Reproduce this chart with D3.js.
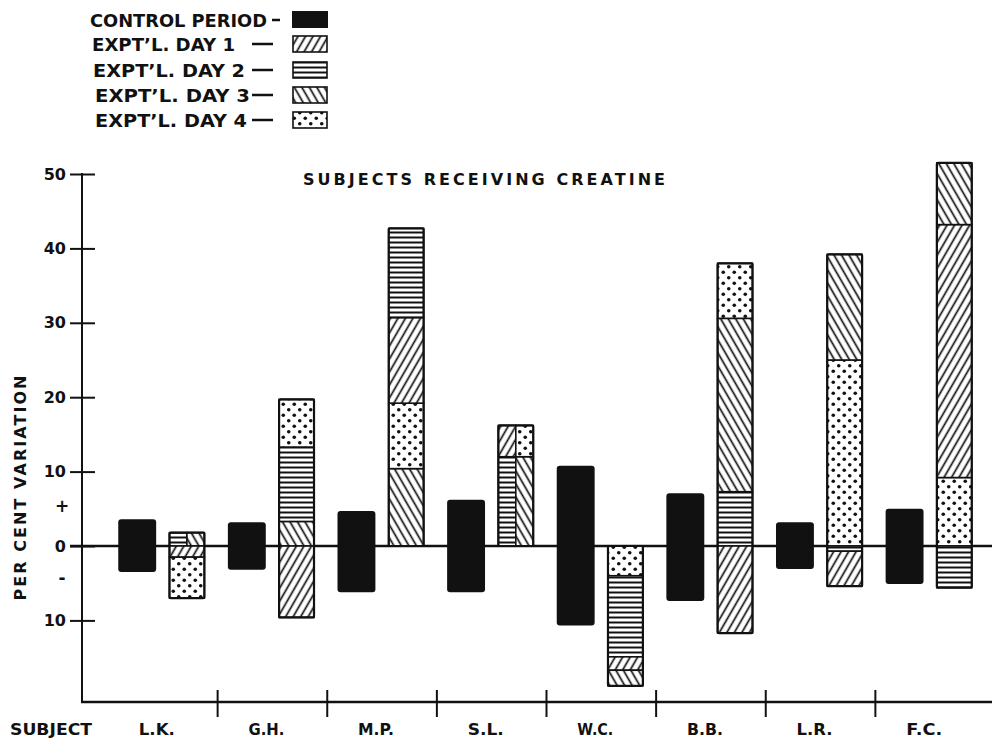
<!DOCTYPE html>
<html><head><meta charset="utf-8">
<script src="https://cdn.jsdelivr.net/npm/d3@7"></script>
<style>
body{margin:0;background:#fff}
text{font-family:"DejaVu Sans",sans-serif;font-weight:bold;fill:#111}
</style>
</head><body>
<svg id="c" width="992" height="739"></svg>
<script>
// ---------- data ----------
const subjects = ["L.K.","G.H.","M.P.","S.L.","W.C.","B.B.","L.R.","F.C."];
const controlUpper = [3.6, 3.2, 4.7, 6.2, 10.8, 7.1, 3.2, 5.0];
const controlLower = [-3.5, -3.2, -6.2, -6.2, -10.7, -7.4, -3.1, -5.1];
// each experimental segment: [day, from, to, column]  (column: full | left | right)
const exptLK = [["day2",0,1.8,"left"],["day3",0,1.8,"right"],["day1",0,-1.5,"full"],["day4",-1.5,-7.0,"full"]];
const exptGH = [["day3",0,3.3,"full"],["day2",3.3,13.3,"full"],["day4",13.3,19.7,"full"],["day1",0,-9.6,"full"]];
const exptMP = [["day3",0,10.4,"full"],["day4",10.4,19.2,"full"],["day1",19.2,30.7,"full"],["day2",30.7,42.7,"full"]];
const exptSL = [["day2",0,12.0,"left"],["day1",12.0,16.2,"left"],["day3",0,12.0,"right"],["day4",12.0,16.2,"right"]];
const exptWC = [["day4",0,-4.0,"full"],["day2",-4.0,-14.9,"full"],["day1",-14.9,-16.7,"full"],["day3",-16.7,-18.8,"full"]];
const exptBB = [["day2",0,7.3,"full"],["day3",7.3,30.6,"full"],["day4",30.6,38.0,"full"],["day1",0,-11.7,"full"]];
const exptLR = [["day4",0,25.0,"full"],["day3",25.0,39.2,"full"],["day2",0,-0.7,"full"],["day1",-0.7,-5.4,"full"]];
const exptFC = [["day4",0,9.2,"full"],["day1",9.2,43.2,"full"],["day3",43.2,51.5,"full"],["day2",0,-5.6,"full"]];
const exptSegments = [exptLK, exptGH, exptMP, exptSL, exptWC, exptBB, exptLR, exptFC];
const yTickValues = [50, 40, 30, 20, 10, 0, -10];
const signMarks = [["+", 5.2], ["-", -4.5]];
const legendKeys = ["control","day1","day2","day3","day4"];
const legendLabels = ["CONTROL PERIOD","EXPT\u2019L. DAY 1","EXPT\u2019L. DAY 2","EXPT\u2019L. DAY 3","EXPT\u2019L. DAY 4"];
const titleText = "SUBJECTS RECEIVING CREATINE";
const yAxisTitle = "PER CENT VARIATION";
const xAxisTitle = "SUBJECT";

// ---------- drawing ----------
const svg = d3.select("#c");
const ink = "#111";
const defs = svg.append("defs");
function hatch(id, angle, spacing, sw){
  const p = defs.append("pattern").attr("id",id).attr("patternUnits","userSpaceOnUse")
    .attr("width",spacing).attr("height",spacing).attr("patternTransform",`rotate(${angle})`);
  p.append("rect").attr("width",spacing).attr("height",spacing).attr("fill","#fff");
  p.append("line").attr("x1",spacing/2).attr("x2",spacing/2).attr("y1",0).attr("y2",spacing)
    .attr("stroke",ink).attr("stroke-width",sw);
}
hatch("day1", 30, 6.5, 1.7);
hatch("day3", -30, 6.5, 1.7);
{
  const p = defs.append("pattern").attr("id","day2").attr("patternUnits","userSpaceOnUse").attr("width",8).attr("height",5);
  p.append("rect").attr("width",8).attr("height",5).attr("fill","#fff");
  p.append("line").attr("x1",0).attr("x2",8).attr("y1",2.5).attr("y2",2.5).attr("stroke",ink).attr("stroke-width",2);
  const q = defs.append("pattern").attr("id","day4").attr("patternUnits","userSpaceOnUse").attr("width",11).attr("height",11);
  q.append("rect").attr("width",11).attr("height",11).attr("fill","#fff");
  q.append("circle").attr("cx",2.75).attr("cy",2.75).attr("r",1.8).attr("fill",ink);
  q.append("circle").attr("cx",8.25).attr("cy",8.25).attr("r",1.8).attr("fill",ink);
}
const fillFor = k => k === "control" ? ink : `url(#${k})`;

const y = d3.scaleLinear().domain([-10, 50]).range([620.4, 174]);
const x = d3.scaleBand().domain(subjects).range([108, 985]).padding(0);
const inner = d3.scaleBand().domain(["control","expt"]).range([0, x.bandwidth()]).paddingInner(0.26).paddingOuter(0.2);
const axisX = 82, baseY = 702;

// title
svg.append("text").attr("x",303).attr("y",185).attr("font-size",16).attr("textLength",362)
  .attr("lengthAdjust","spacing").text(titleText);

// legend
legendKeys.forEach((k,i)=>{
  const cy = [20, 44, 70, 95, 120][i];
  const widths = [177, 143, 152, 155, 152];
  const x0 = [90, 92, 93, 95, 95][i];
  svg.append("text").attr("x",x0).attr("y",cy+6.5).attr("font-size",17)
    .attr("textLength",widths[i]).attr("lengthAdjust","spacingAndGlyphs").text(legendLabels[i]);
  if(i===0){
    svg.append("line").attr("x1",272).attr("x2",280).attr("y1",cy).attr("y2",cy).attr("stroke",ink).attr("stroke-width",2.5);
    svg.append("rect").attr("x",292).attr("y",11).attr("width",36).attr("height",17).attr("fill",ink);
  } else {
    svg.append("line").attr("x1",252).attr("x2",273).attr("y1",cy).attr("y2",cy).attr("stroke",ink).attr("stroke-width",2.5);
    svg.append("rect").attr("x",293).attr("y",cy-8).attr("width",34).attr("height",16)
      .attr("fill",fillFor(k)).attr("stroke",ink).attr("stroke-width",1.6);
  }
});

// y axis
const yAxis = d3.axisLeft(y).tickValues(yTickValues).tickFormat(d=>String(Math.abs(d))).tickSize(12).tickPadding(4);
const gy = svg.append("g").attr("transform",`translate(${axisX},0)`).call(yAxis);
gy.select(".domain").remove();
gy.selectAll(".tick line").attr("x1",13).attr("stroke",ink).attr("stroke-width",2);
gy.selectAll(".tick text").attr("font-size",16).attr("font-family","DejaVu Sans").attr("font-weight","bold").attr("fill",ink);
svg.append("line").attr("x1",axisX).attr("x2",axisX).attr("y1",y(50)-1).attr("y2",baseY)
  .attr("stroke",ink).attr("stroke-width",2);
signMarks.forEach(([s,v])=>{
  svg.append("text").attr("x",62).attr("y",y(v)+5).attr("text-anchor","middle").attr("font-size",17).text(s);
});
svg.append("text").attr("transform",`translate(26,488) rotate(-90)`).attr("text-anchor","middle")
  .attr("font-size",16).attr("textLength",225).attr("lengthAdjust","spacing").text(yAxisTitle);

// bottom axis
svg.append("line").attr("x1",axisX-1).attr("x2",992).attr("y1",baseY).attr("y2",baseY).attr("stroke",ink).attr("stroke-width",2.5);
subjects.slice(1).forEach(s=>{
  svg.append("line").attr("x1",x(s)).attr("x2",x(s)).attr("y1",baseY-12).attr("y2",baseY+15).attr("stroke",ink).attr("stroke-width",2);
});
svg.append("text").attr("x",10).attr("y",735).attr("font-size",16).attr("textLength",82).attr("lengthAdjust","spacingAndGlyphs").text(xAxisTitle);
subjects.forEach(s=>{
  svg.append("text").attr("x",x(s)+x.bandwidth()/2-6).attr("y",735).attr("text-anchor","middle")
    .attr("font-size",16).attr("textLength",36).attr("lengthAdjust","spacingAndGlyphs").text(s);
});

// zero line
svg.append("line").attr("x1",70).attr("x2",992).attr("y1",y(0)).attr("y2",y(0)).attr("stroke",ink).attr("stroke-width",2.5);

// control bars
subjects.forEach((s,i)=>{
  svg.append("rect").attr("x",x(s)+inner("control")).attr("width",inner.bandwidth())
    .attr("y",y(controlUpper[i])).attr("height",y(controlLower[i])-y(controlUpper[i]))
    .attr("rx",3).attr("fill",ink);
});

// experimental bars
subjects.forEach((s,i)=>{
  const x0 = x(s)+inner("expt"), w = inner.bandwidth()-3;
  exptSegments[i].forEach(([day,a,b,col])=>{
    const xs = col==="right" ? x0+w/2 : x0;
    const ws = col==="full" ? w : w/2;
    const top = y(Math.max(a,b)), bot = y(Math.min(a,b));
    svg.append("rect").attr("x",xs).attr("y",top).attr("width",ws).attr("height",bot-top)
      .attr("fill",fillFor(day)).attr("stroke",ink).attr("stroke-width",1.6);
  });
  const vals = exptSegments[i].flatMap(d=>[d[1],d[2]]);
  const hi = d3.max(vals), lo = d3.min(vals);
  svg.append("rect").attr("x",x0).attr("y",y(hi)).attr("width",w).attr("height",y(lo)-y(hi))
    .attr("fill","none").attr("stroke",ink).attr("stroke-width",2.2).attr("rx",1.5);
});
</script>
</body></html>
